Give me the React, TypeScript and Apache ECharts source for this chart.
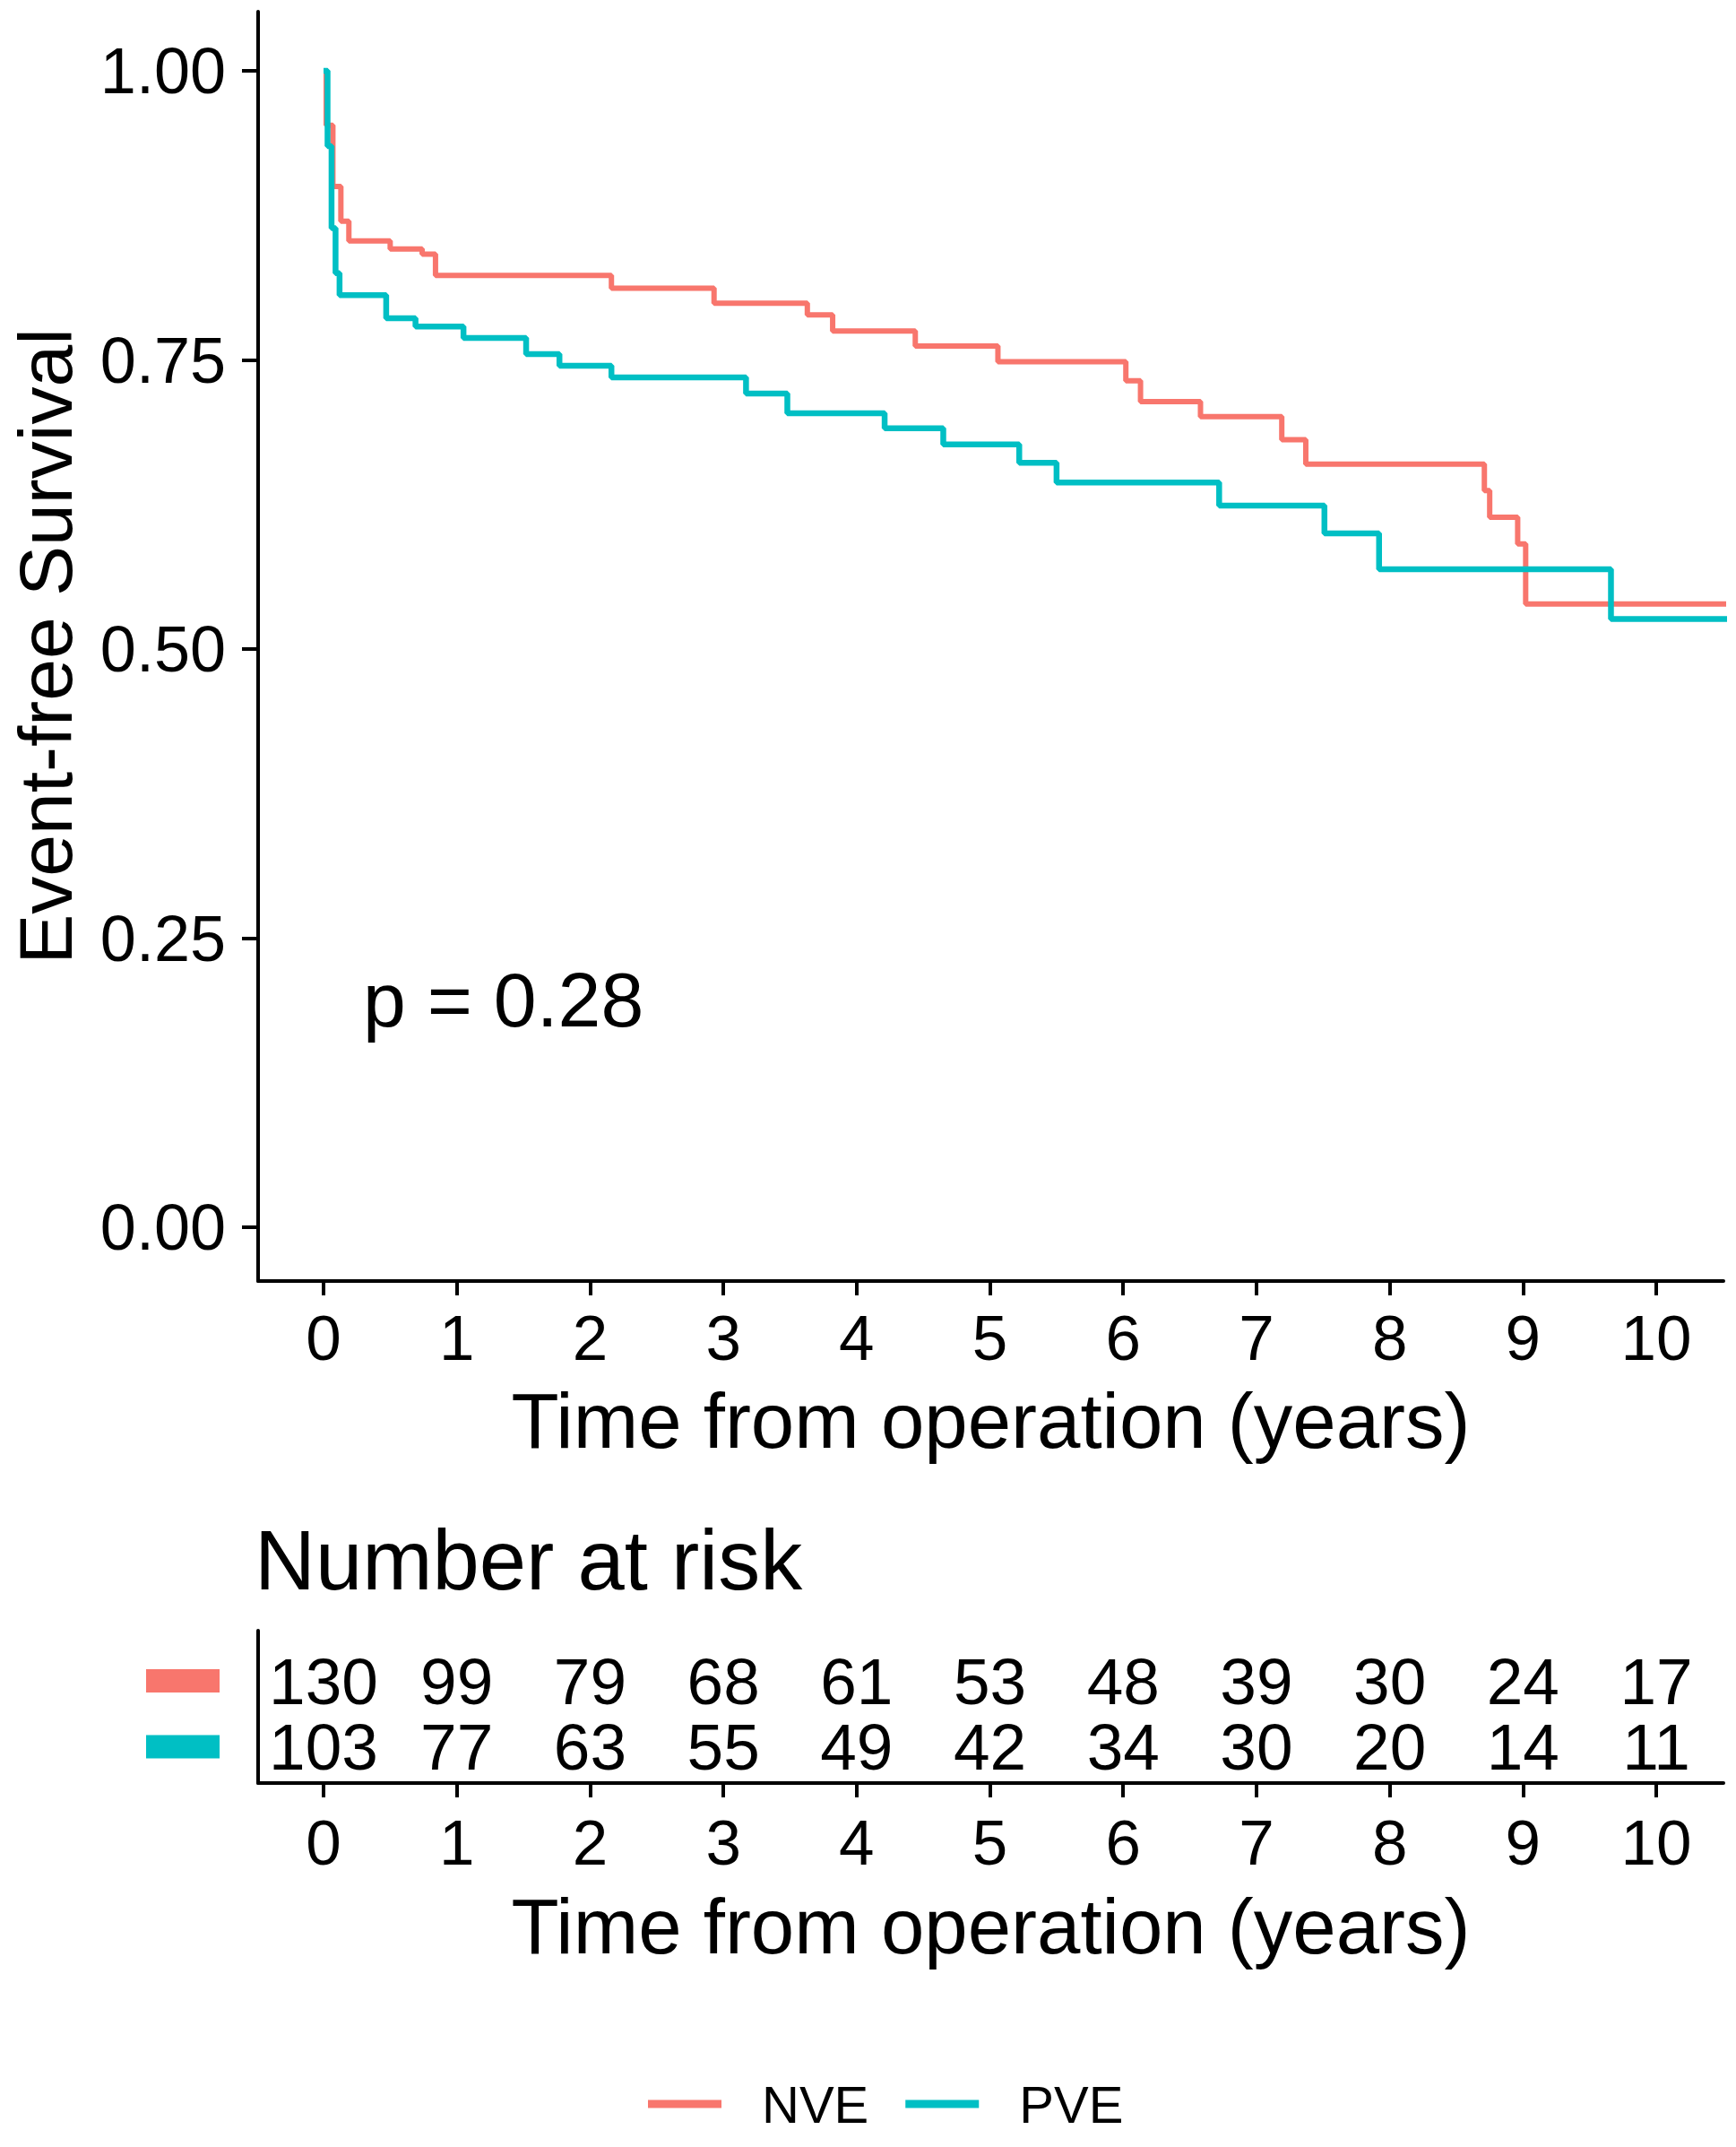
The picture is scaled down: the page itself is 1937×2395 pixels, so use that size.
import React, { useEffect, useRef } from "react";
import * as echarts from "echarts";

// ---- data ----
const NVE_CURVE: [number, number][] = [
  [0, 1.0], [0.02, 0.953], [0.07, 0.9], [0.13, 0.87], [0.19, 0.853],
  [0.5, 0.846], [0.74, 0.8415], [0.84, 0.823], [2.16, 0.812], [2.93, 0.799],
  [3.63, 0.789], [3.82, 0.775], [4.44, 0.762], [5.06, 0.7485], [6.02, 0.732],
  [6.13, 0.714], [6.58, 0.701], [7.19, 0.681], [7.37, 0.66], [8.71, 0.637],
  [8.75, 0.614], [8.96, 0.591], [9.02, 0.539], [10.6, 0.539],
];
const PVE_CURVE: [number, number][] = [
  [0, 1.0], [0.03, 0.935], [0.06, 0.864], [0.09, 0.825], [0.12, 0.806],
  [0.47, 0.786], [0.69, 0.779], [1.05, 0.769], [1.52, 0.755], [1.77, 0.745],
  [2.16, 0.735], [3.17, 0.721], [3.48, 0.704], [4.21, 0.691], [4.65, 0.677],
  [5.22, 0.661], [5.5, 0.644], [6.72, 0.624], [7.51, 0.6], [7.92, 0.569],
  [9.66, 0.526], [10.6, 0.526],
];
const RISK_TIMES = [0, 1, 2, 3, 4, 5, 6, 7, 8, 9, 10];
const NVE_RISK = [130, 99, 79, 68, 61, 53, 48, 39, 30, 24, 17];
const PVE_RISK = [103, 77, 63, 55, 49, 42, 34, 30, 20, 14, 11];
const Y_TICKS = [0, 0.25, 0.5, 0.75, 1];
const GROUPS = ["NVE", "PVE"];
const P_TEXT = "p = 0.28";

const NVE_COLOR = "#F8766D";
const PVE_COLOR = "#00BFC4";
const FONT = '"Liberation Sans", Arial, sans-serif';
const XMIN = -0.491;
const XMAX = 10.504;

export default function App() {
  const ref = useRef<HTMLDivElement>(null);
  useEffect(() => {
    document.body.style.margin = "0";
    if (!ref.current) return;
    const chart = echarts.init(ref.current, undefined, { renderer: "svg" });
    const axisLineStyle = { color: "#000", width: 4 };
    const timeAxisBase = (gridIndex: number, labelMargin: number, nameGap: number) => ({
      gridIndex,
      type: "value" as const,
      min: XMIN,
      max: XMAX,
      axisLine: { show: true, onZero: false, lineStyle: axisLineStyle },
      axisTick: { show: true, length: 16, lineStyle: { color: "#000", width: 4 }, customValues: RISK_TIMES },
      axisLabel: { customValues: RISK_TIMES, fontSize: 71, color: "#000", margin: labelMargin, fontFamily: FONT },
      splitLine: { show: false },
      name: "Time from operation (years)",
      nameLocation: "middle" as const,
      nameGap,
      nameTextStyle: { fontSize: 87, color: "#000", fontFamily: FONT },
    });
    const riskLabel = {
      show: true,
      position: "inside" as const,
      fontSize: 73,
      color: "#000",
      opacity: 1,
      textBorderWidth: 0,
      textBorderColor: "transparent",
      fontFamily: FONT,
      formatter: (p: any) => String(p.value[2]),
    };
    chart.setOption({
      animation: false,
      backgroundColor: "#fff",
      textStyle: { fontFamily: FONT },
      title: {
        text: "Number at risk",
        left: 284,
        top: 1693,
        padding: 0,
        textStyle: { fontSize: 94, fontWeight: "normal", color: "#000", fontFamily: FONT },
      },
      legend: {
        data: GROUPS,
        left: 723,
        top: 2318,
        padding: 0,
        icon: "rect",
        itemWidth: 82,
        itemHeight: 9,
        itemGap: 41,
        selectedMode: false,
        textStyle: { fontSize: 58, color: "#000", fontFamily: FONT, padding: [0, 0, 0, 40] },
      },
      grid: [
        { left: 288, top: 13, width: 1635, height: 1416 },
        { left: 288, top: 1819, width: 1635, height: 170 },
      ],
      xAxis: [timeAxisBase(0, 28, 112), timeAxisBase(1, 31, 116)],
      yAxis: [
        {
          gridIndex: 0,
          type: "value",
          min: -0.0465,
          max: 1.0512,
          axisLine: { show: true, onZero: false, lineStyle: axisLineStyle },
          axisTick: { show: true, length: 18, lineStyle: { color: "#000", width: 4 }, customValues: Y_TICKS },
          axisLabel: {
            customValues: Y_TICKS,
            fontSize: 72,
            color: "#000",
            margin: 36,
            fontFamily: FONT,
            formatter: (v: number) => v.toFixed(2),
          },
          splitLine: { show: false },
          name: "Event-free Survival",
          nameLocation: "middle",
          nameGap: 195,
          nameTextStyle: { fontSize: 84, color: "#000", fontFamily: FONT },
        },
        {
          gridIndex: 1,
          type: "value",
          min: 0.449,
          max: 2.762,
          axisLine: { show: true, onZero: false, lineStyle: axisLineStyle },
          axisTick: { show: false },
          axisLabel: {
            customValues: [1, 2],
            margin: 43,
            formatter: (v: number) => (v === 2 ? "{a| }" : "{b| }"),
            rich: {
              a: { backgroundColor: NVE_COLOR, width: 82, height: 26, fontSize: 10 },
              b: { backgroundColor: PVE_COLOR, width: 82, height: 26, fontSize: 10 },
            },
          },
          splitLine: { show: false },
        },
      ],
      graphic: [
        {
          type: "text",
          x: 405,
          y: 1115,
          style: {
            text: P_TEXT,
            fontSize: 86,
            fontFamily: FONT,
            fill: "#000",
            verticalAlign: "middle",
            align: "left",
          },
        },
      ],
      series: [
        {
          name: "NVE",
          type: "line",
          xAxisIndex: 0,
          yAxisIndex: 0,
          step: "end",
          symbol: "none",
          showSymbol: false,
          color: NVE_COLOR,
          lineStyle: { width: 6, color: NVE_COLOR },
          data: NVE_CURVE,
        },
        {
          name: "PVE",
          type: "line",
          xAxisIndex: 0,
          yAxisIndex: 0,
          step: "end",
          symbol: "none",
          showSymbol: false,
          color: PVE_COLOR,
          lineStyle: { width: 6.5, color: PVE_COLOR },
          data: PVE_CURVE,
        },
        {
          name: "NVE at risk",
          type: "scatter",
          xAxisIndex: 1,
          yAxisIndex: 1,
          symbolSize: 1,
          itemStyle: { color: "#000", opacity: 0 },
          label: riskLabel,
          data: RISK_TIMES.map((t, i) => [t, 2, NVE_RISK[i]]),
        },
        {
          name: "PVE at risk",
          type: "scatter",
          xAxisIndex: 1,
          yAxisIndex: 1,
          symbolSize: 1,
          itemStyle: { color: "#000", opacity: 0 },
          label: riskLabel,
          data: RISK_TIMES.map((t, i) => [t, 1, PVE_RISK[i]]),
        },
      ],
    });
    return () => chart.dispose();
  }, []);
  return <div ref={ref} style={{ width: 1937, height: 2395 }} />;
}
